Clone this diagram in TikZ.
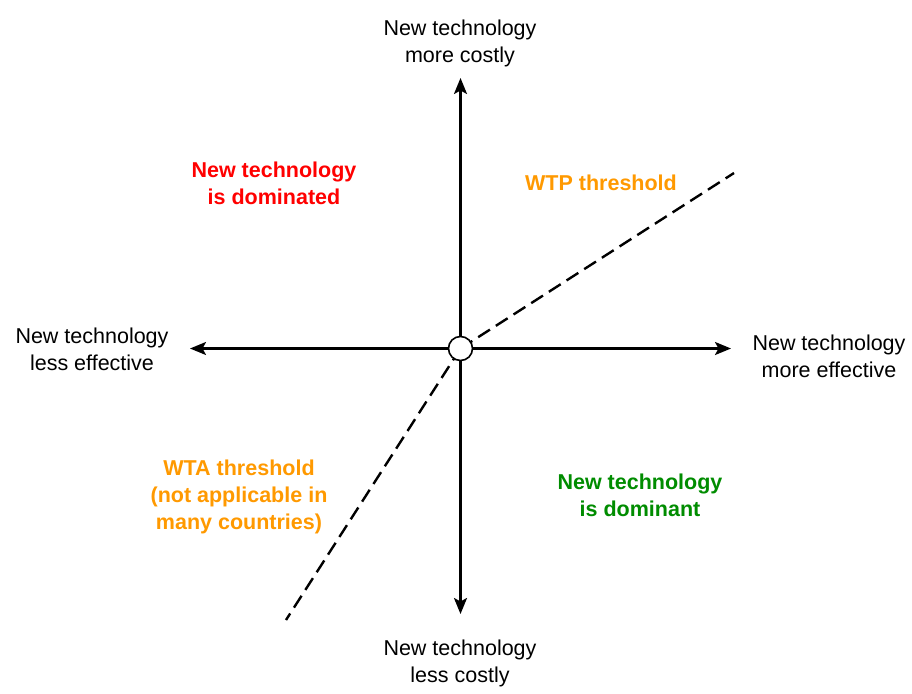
\documentclass[tikz,border=0pt]{standalone}
\usepackage{fontspec}
\setmainfont{Liberation Sans}
\usetikzlibrary{arrows.meta}
\definecolor{wtporange}{HTML}{FF9900}
\definecolor{domred}{HTML}{FF0000}
\definecolor{domgreen}{HTML}{008C00}
\begin{document}
\begin{tikzpicture}[x=1pt,y=-1pt,
  lbl/.style={inner sep=0pt, align=center, font=\fontsize{21.5}{27}\selectfont},
  blbl/.style={lbl, font=\fontsize{21.5}{27}\selectfont\bfseries},
  axis/.style={line width=2.4pt, {Stealth[length=16pt,width=13pt,inset=3.5pt]}-{Stealth[length=16pt,width=13pt,inset=3.5pt]}},
  thr/.style={line width=2.4pt, dash pattern=on 14pt off 7pt},
  origin/.style={circle, draw, line width=1.6pt, fill=white, minimum size=24pt, inner sep=0pt}
]
\useasboundingbox (0,0) rectangle (912,693);
% axis ends
\coordinate (top) at (460.5,78);
\coordinate (bot) at (460.5,614);
\coordinate (left) at (190,348.5);
\coordinate (right) at (731,348.5);
\coordinate (wtpend) at (734,173);
\coordinate (wtaend) at (286,620);
\coordinate (o) at (460.5,348.5);
% axes
\draw[axis] (bot) -- (top);
\draw[axis] (left) -- (right);
% thresholds
\draw[thr] (o) -- (wtpend);
\draw[thr] (o) -- (wtaend);
\node[origin] (orig) at (o) {};
% labels
\node[lbl] (lt) at (460,43) {New technology\\more costly};
\node[lbl] (lb) at (460,663) {New technology\\less costly};
\node[lbl] (ll) at (92,349) {New technology\\less effective};
\node[lbl] (lr) at (829,356) {New technology\\more effective};
\node[blbl, text=domred] (dom) at (274,183) {New technology\\is dominated};
\node[blbl, text=wtporange] (wtp) at (601,183) {WTP threshold};
\node[blbl, text=wtporange] (wta) at (239,497) {WTA threshold\\(not applicable in\\many countries)};
\node[blbl, text=domgreen] (dnt) at (640,495) {New technology\\is dominant};
\end{tikzpicture}
\end{document}
